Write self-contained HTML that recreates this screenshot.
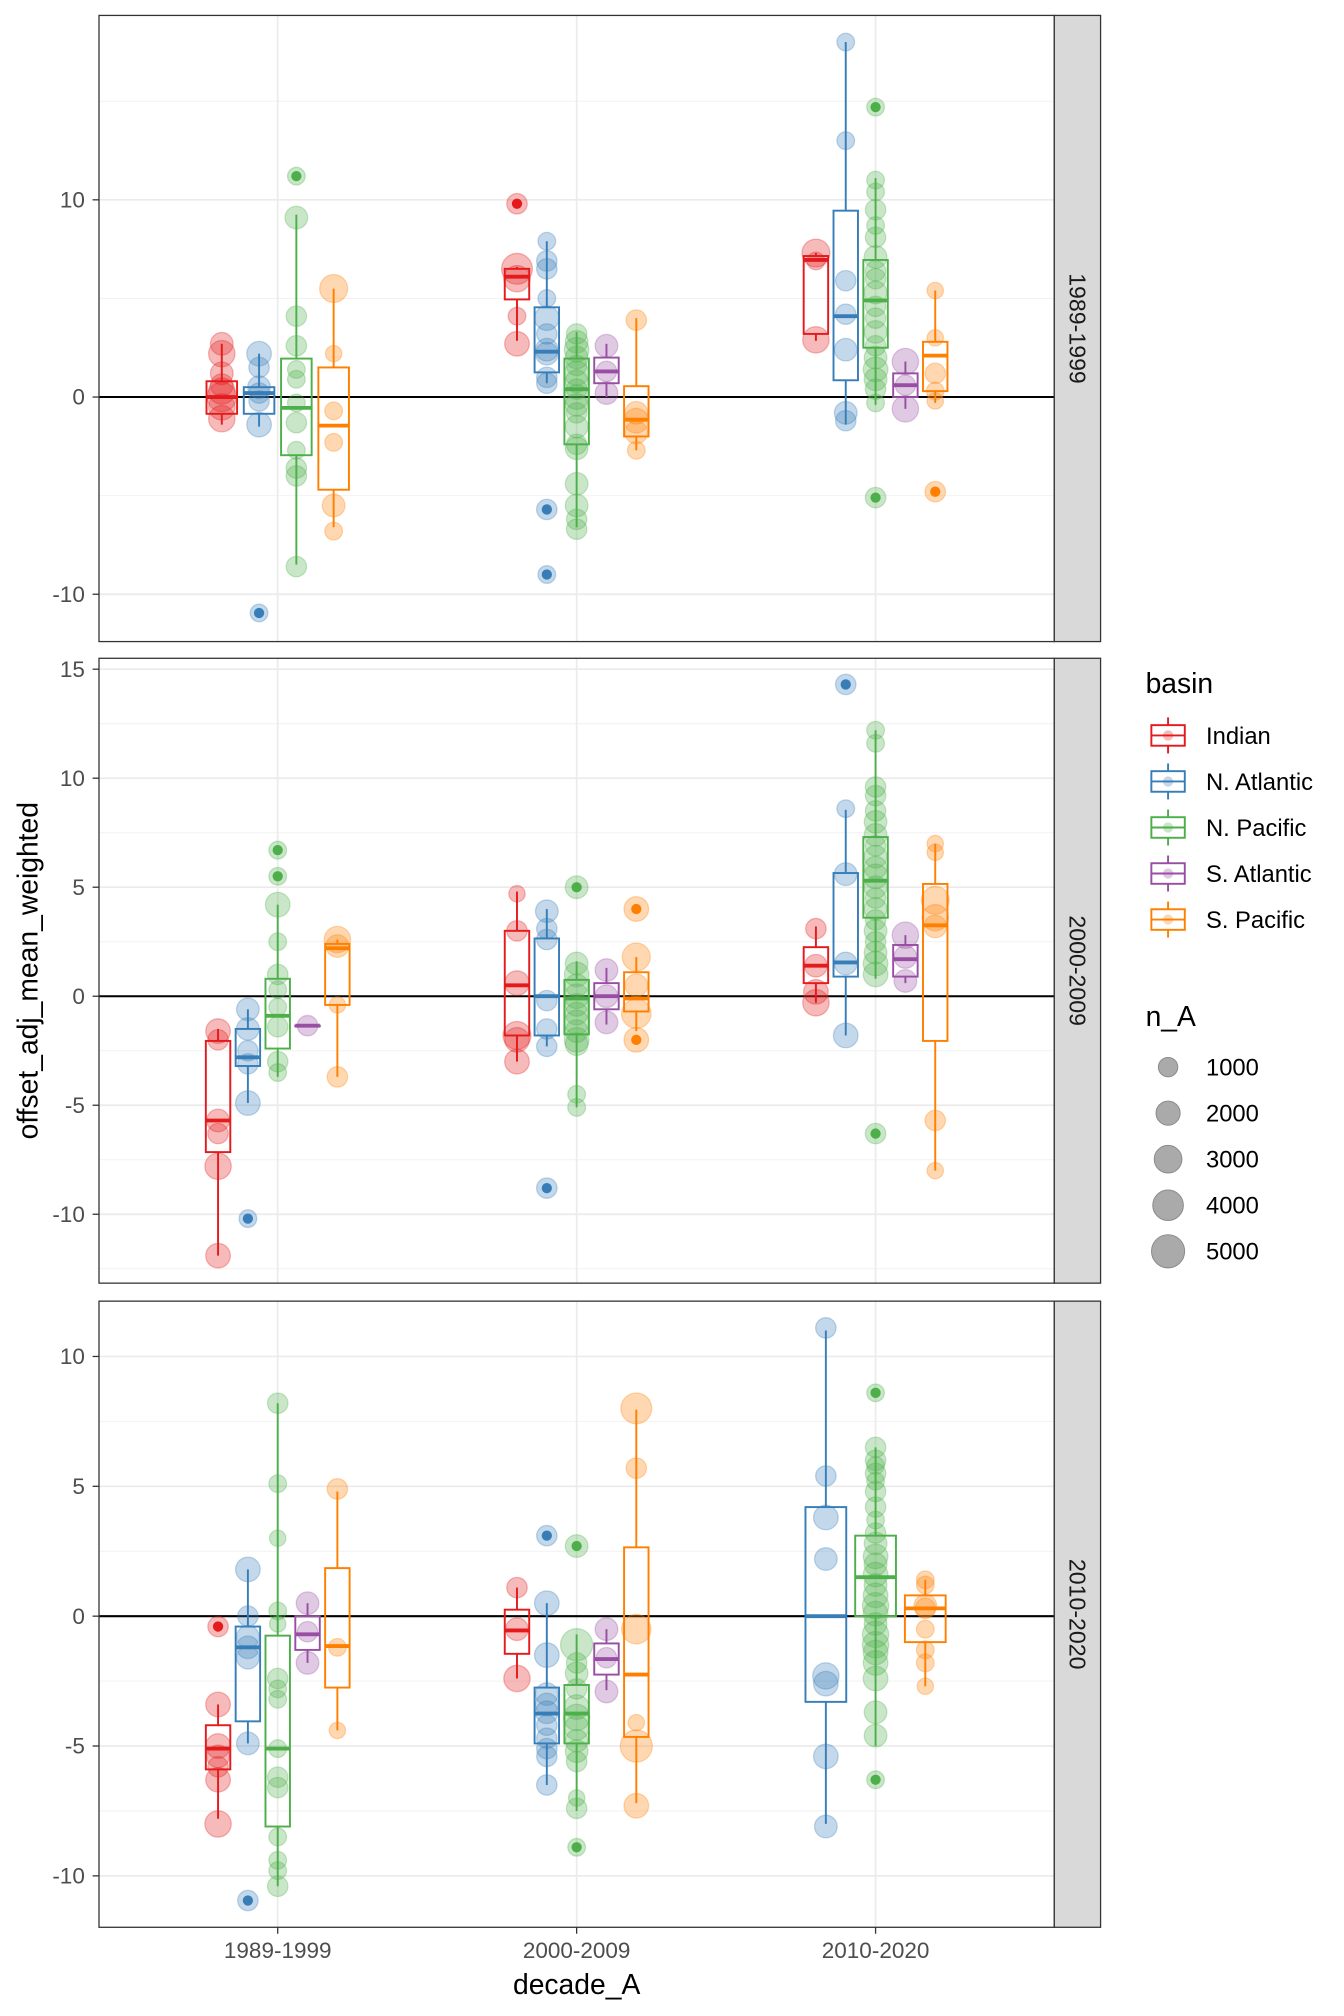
<!DOCTYPE html>
<html><head><meta charset="utf-8"><title>offset boxplots</title>
<style>
html,body{margin:0;padding:0;background:#fff;}
svg{display:block;font-family:"Liberation Sans",Arial,sans-serif;}
</style></head>
<body>
<svg id="chart" width="1344" height="2016" viewBox="0 0 1045.33 1568" xmlns="http://www.w3.org/2000/svg">
<rect x="0" y="0" width="1045.33" height="1568" fill="#fff"/>
<g id="layer"></g>
</svg>
<script>
// ---- data ----
const facetLabels = ["1989-1999","2000-2009","2010-2020"];
const decades = ["1989-1999","2000-2009","2010-2020"];
const basins = ["Indian","N. Atlantic","N. Pacific","S. Atlantic","S. Pacific"];
const basinColors = ["#E41A1C","#377EB8","#4DAF4A","#984EA3","#FF7F00"];
const facetTicks = [[-10,0,10],[-10,-5,0,5,10,15],[-10,-5,0,5,10]];
const facetMinor = [[-5,5,15],[-12.5,-7.5,-2.5,2.5,7.5,12.5],[-7.5,-2.5,2.5,7.5]];
const facetDomain = [[-12.4,19.35],[-13.16,15.5],[-11.98,12.13]];
const sizeBreaks = [1000,2000,3000,4000,5000];
// box stats: [facet, decade, basin, lowerWhisker, q1, median, q3, upperWhisker]
const boxStats = [
[0,0,0,-1.4,-0.85,0,0.8,2.7],
[0,0,1,-1.5,-0.85,0.2,0.5,2.2],
[0,0,2,-8.5,-2.95,-0.55,1.95,9.25],
[0,0,4,-6.6,-4.7,-1.45,1.5,5.5],
[0,1,0,2.85,4.95,6.1,6.5,6.6],
[0,1,1,0.7,1.25,2.3,4.55,7.9],
[0,1,2,-6.6,-2.4,0.4,1.95,3.3],
[0,1,3,0.0,0.7,1.3,2.0,2.7],
[0,1,4,-2.7,-2.0,-1.15,0.55,4.0],
[0,2,0,2.85,3.2,6.95,7.15,7.3],
[0,2,1,-1.4,0.85,4.1,9.45,18.0],
[0,2,2,-0.4,2.5,4.9,6.95,11.1],
[0,2,3,-0.6,0,0.6,1.2,1.8],
[0,2,4,-0.3,0.3,2.1,2.8,5.4],
[1,0,0,-11.9,-7.15,-5.7,-2.05,-1.5],
[1,0,1,-4.9,-3.2,-2.8,-1.5,-0.6],
[1,0,2,-3.7,-2.4,-0.9,0.8,4.2],
[1,0,3,-1.35,-1.35,-1.35,-1.35,-1.35],
[1,0,4,-3.7,-0.4,2.2,2.4,2.6],
[1,1,0,-3.0,-1.8,0.5,3.0,4.8],
[1,1,1,-2.3,-1.8,0,2.65,4.0],
[1,1,2,-5.1,-1.75,-0.1,0.75,1.6],
[1,1,3,-1.3,-0.6,0,0.6,1.3],
[1,1,4,-1.6,-0.7,-0.1,1.1,1.8],
[1,2,0,-0.3,0.6,1.4,2.25,3.2],
[1,2,1,-1.8,0.9,1.55,5.65,8.55],
[1,2,2,0.8,3.6,5.3,7.3,12.2],
[1,2,3,0.6,0.9,1.7,2.35,2.8],
[1,2,4,-8.0,-2.05,3.25,5.15,7.0],
[2,0,0,-7.8,-5.9,-5.1,-4.2,-3.4],
[2,0,1,-4.9,-4.05,-1.2,-0.4,1.8],
[2,0,2,-10.4,-8.1,-5.1,-0.75,8.2],
[2,0,3,-1.8,-1.3,-0.7,0,0.5],
[2,0,4,-4.4,-2.75,-1.15,1.85,4.8],
[2,1,0,-2.4,-1.45,-0.55,0.25,1.1],
[2,1,1,-6.5,-4.9,-3.75,-2.75,0.5],
[2,1,2,-7.5,-4.9,-3.75,-2.65,-0.7],
[2,1,3,-2.85,-2.25,-1.65,-1.05,-0.5],
[2,1,4,-7.2,-4.65,-2.25,2.65,7.95],
[2,2,1,-8.0,-3.3,0,4.2,11.0],
[2,2,2,-5.0,0,1.5,3.1,6.5],
[2,2,4,-2.7,-1.0,0.3,0.8,1.4]
];
// points: [facet, decade, basin, values[], n_A sizes[]]
const pointSets = [
[0,0,0,[2.7,2.2,1.2,0.6,0.3,0,-0.5,-1.1],[2000,3000,2000,2000,3000,4000,3000,3000]],
[0,0,1,[2.2,1.5,0.5,0.2,-0.2,-1.4,-10.95],[2500,1500,2000,1500,1500,2500,1000]],
[0,0,2,[11.2,9.1,4.1,2.6,1.4,0.9,-0.3,-1.3,-2.7,-3.6,-4.0,-8.6],[1000,2000,1500,1500,1000,1000,1000,1500,1000,1500,1500,1500]],
[0,0,4,[5.5,2.2,-0.7,-2.3,-5.5,-6.8],[3500,800,1000,1000,2000,1000]],
[0,1,0,[9.8,6.5,6.0,4.1,2.7],[1500,4500,3000,1000,2500]],
[0,1,1,[7.9,6.9,6.5,5.0,4.0,3.2,2.4,2.2,1.0,0.7,-5.7,-9.0],[1000,1500,1500,1000,2500,1500,2000,2000,1500,1500,1500,1000]],
[0,1,2,[3.2,2.8,2.4,2.0,1.6,1.2,0.8,0.4,0,-0.4,-0.8,-1.5,-2.4,-2.6,-4.4,-5.5,-6.2,-6.7],[1500,2000,2500,2000,1500,2500,2000,1500,2500,2000,1500,2000,1500,2000,2000,2000,1500,1500]],
[0,1,3,[2.6,1.3,0.2],[2000,1500,2000]],
[0,1,4,[3.9,-0.8,-1.2,-1.8,-2.7],[1500,2000,2500,2000,1000]],
[0,2,0,[7.3,6.9,2.9],[3500,1000,3000]],
[0,2,1,[18.0,13.0,5.9,4.2,2.4,-0.8,-1.2],[1000,1000,1500,1500,2000,2000,1500]],
[0,2,2,[14.7,11.0,10.4,9.5,8.7,8.1,7.1,6.4,6.0,5.3,4.6,4.0,3.3,2.6,2.0,1.4,0.9,0.4,-0.3,-5.1],[1000,1000,1000,1500,1000,1500,2000,1500,1500,2000,1500,1500,2000,1500,2000,2500,2000,1500,1000,1500]],
[0,2,3,[1.8,0.6,-0.6],[3000,1500,3000]],
[0,2,4,[5.4,3.0,1.2,0.3,-0.2,-4.8],[800,800,1500,1000,800,1500]],
[1,0,0,[-1.6,-2.0,-5.7,-6.3,-7.8,-11.9],[2500,1500,2000,1500,3000,2500]],
[1,0,1,[-0.6,-1.5,-2.5,-3.1,-4.9,-10.2],[2000,2000,1500,1500,2500,1000]],
[1,0,2,[6.7,5.5,4.2,2.5,1.0,0.3,-0.5,-1.4,-3.0,-3.5],[1000,1000,2500,1000,1500,1000,1000,1500,1500,1000]],
[1,0,3,[-1.35],[1500]],
[1,0,4,[2.6,2.3,-0.4,-3.7],[3000,2000,800,1500]],
[1,1,0,[4.7,3.0,0.6,-1.8,-2.0,-3.0],[800,1500,2500,3500,2500,2500]],
[1,1,1,[3.9,3.1,2.6,-0.2,-1.5,-2.3,-8.8],[2000,1500,1500,1500,1500,1500,1500]],
[1,1,2,[5.0,1.5,1.0,0.5,0,-0.4,-0.8,-1.2,-1.6,-2.0,-2.2,-4.5,-5.1],[2000,2000,2500,2000,2500,2000,2000,2500,2000,2500,2000,1000,1000]],
[1,1,3,[1.2,0,-1.2],[2000,2000,2000]],
[1,1,4,[4.0,1.8,0.5,-0.8,-2.0],[2500,3500,2000,4000,2500]],
[1,2,0,[3.1,1.4,0.2,-0.3],[1500,2000,2500,3000]],
[1,2,1,[14.3,8.6,5.6,1.5,-1.8],[1500,1000,2000,2000,2500]],
[1,2,2,[12.2,11.6,9.6,9.2,8.5,8.0,7.4,6.9,6.4,5.9,5.5,5.0,4.5,4.0,3.5,3.0,2.5,2.0,1.5,1.0,-6.3],[1000,1000,1500,1500,1500,2000,2000,1500,2000,2000,2500,2000,1500,2000,1500,2000,1500,2000,2500,2500,1500]],
[1,2,3,[2.8,1.8,0.7],[3000,2000,2000]],
[1,2,4,[7.0,6.6,4.4,3.6,3.2,-5.7,-8.0],[800,800,3500,3000,2000,1500,800]],
[2,0,0,[-0.4,-3.4,-5.0,-5.4,-5.8,-6.3,-8.0],[1500,2500,2500,2000,1500,2500,3000]],
[2,0,1,[1.8,0,-0.8,-1.2,-1.6,-4.9,-10.95],[2500,1500,2000,2000,2000,2000,1500]],
[2,0,2,[8.2,5.1,3.0,0.2,-0.3,-2.4,-2.8,-3.2,-5.1,-6.2,-6.6,-8.5,-9.4,-9.8,-10.4],[1500,1000,800,1000,800,1500,1000,1000,1000,1500,1500,1000,1000,1000,1500]],
[2,0,3,[0.5,-0.6,-1.8],[2000,1500,2000]],
[2,0,4,[4.9,-1.2,-4.4],[1500,1000,800]],
[2,1,0,[1.1,-0.5,-2.4],[1500,2000,3000]],
[2,1,1,[3.1,0.5,-1.5,-3.0,-3.4,-3.7,-4.2,-4.7,-5.1,-5.4,-6.5],[1500,2500,2500,2000,2000,2000,1500,1500,1500,1500,1500]],
[2,1,2,[2.7,-1.1,-1.8,-2.2,-2.8,-3.5,-3.9,-4.3,-4.8,-5.2,-5.6,-7.0,-7.4,-8.9],[2000,5000,1500,2000,1500,2500,3000,2500,2000,2000,1500,800,1500,1000]],
[2,1,3,[-0.5,-1.6,-2.9],[2000,1500,2000]],
[2,1,4,[8.0,5.7,-0.5,-4.1,-5.0,-7.3],[4500,1500,4000,800,5000,2500]],
[2,2,1,[11.1,5.4,3.8,2.2,-2.3,-2.6,-5.4,-8.1],[1500,1500,2500,2000,3000,2500,2500,2000]],
[2,2,2,[8.6,6.5,6.0,5.8,5.5,5.2,4.8,4.2,3.7,3.2,2.8,2.3,2.0,1.6,1.2,0.8,0.4,0.1,-0.3,-0.7,-1.1,-1.4,-1.8,-2.4,-3.7,-4.6,-6.3],[1000,1500,1500,1000,1500,1000,1500,1500,1000,1500,2000,2500,2000,2500,2000,2500,3000,2500,2000,3000,3000,2500,2500,2500,2000,2000,1000]],
[2,2,4,[1.4,1.2,0.4,0.3,-0.5,-1.3,-1.8,-2.7],[1000,1000,2000,1500,1000,1000,1000,800]]
];

// ---- layout ----
const NS = "http://www.w3.org/2000/svg";
const layer = document.getElementById('layer');
const panelX0 = 77, panelX1 = 820, stripX1 = 856;
const panelTops = [12,512,1012], panelBots = [499,998,1499];
const xCenters = [216,448.5,681];
function xScale(d){ return xCenters[d]; }
function yScale(f,v){ const dom=facetDomain[f]; return panelBots[f] - (v-dom[0])/(dom[1]-dom[0])*(panelBots[f]-panelTops[f]); }
function rScale(n){ return 3 + 9.5*Math.sqrt(Math.max(0,(n-200))/4800); }
function mk(tag, attrs, parent){ const e=document.createElementNS(NS,tag); for(const k in attrs) e.setAttribute(k,attrs[k]); (parent||layer).appendChild(e); return e; }

function groupInfo(f,d,b){
  const present = boxStats.filter(r=>r[0]===f&&r[1]===d).map(r=>r[2]).sort((a,c)=>a-c);
  const n = present.length, slot = 116/n, i = present.indexOf(b);
  return {cx: xScale(d) + (i-(n-1)/2)*slot, w: slot*0.82};
}

for(let f=0; f<3; f++){
  const g = mk('g',{});
  
  
  const top=panelTops[f], bot=panelBots[f];
  const bg = mk('rect',{x:panelX0,y:top,width:panelX1-panelX0,height:bot-top,fill:'#fff'},g);
  
  
  facetMinor[f].forEach(v=>{ const y=yScale(f,v); if(y>top&&y<bot){ const l=mk('line',{x1:panelX0,x2:panelX1,y1:y,y2:y,stroke:'#f2f2f2','stroke-width':0.8},g);
      }});
  facetTicks[f].forEach(v=>{ const y=yScale(f,v); const l=mk('line',{x1:panelX0,x2:panelX1,y1:y,y2:y,stroke:'#ebebeb','stroke-width':1.3},g);
     
    const t=mk('line',{x1:72,x2:77,y1:y,y2:y,stroke:'#333','stroke-width':1},g);
     
    const tx=mk('text',{x:66,y:y+6,'text-anchor':'end','font-size':17.5,fill:'#4d4d4d'},g); tx.textContent=String(v);
      });
  xCenters.forEach(x=>{ const l=mk('line',{x1:x,x2:x,y1:top,y2:bot,stroke:'#ebebeb','stroke-width':1.3},g);
      });
  const y0=yScale(f,0);
  const zl=mk('line',{x1:panelX0,x2:panelX1,y1:y0,y2:y0,stroke:'#000','stroke-width':1.6},g);
   
  pointSets.filter(p=>p[0]===f).forEach(p=>{
    const gi=groupInfo(f,p[1],p[2]); const col=basinColors[p[2]];
    p[3].forEach((v,k)=>{ const c=mk('circle',{cx:gi.cx,cy:yScale(f,v),r:rScale(p[4][k]),fill:col,'fill-opacity':0.3,stroke:col,'stroke-opacity':0.3,'stroke-width':1},g);
        });
  });
  boxStats.filter(r=>r[0]===f).forEach(r=>{
    const gi=groupInfo(f,r[1],r[2]); const col=basinColors[r[2]];
    const bx=mk('g',{},g);
    
    
    mk('line',{x1:gi.cx,x2:gi.cx,y1:yScale(f,r[7]),y2:yScale(f,r[6]),stroke:col,'stroke-width':1.5},bx);
    mk('line',{x1:gi.cx,x2:gi.cx,y1:yScale(f,r[4]),y2:yScale(f,r[3]),stroke:col,'stroke-width':1.5},bx);
    const yt=yScale(f,r[6]), yb=yScale(f,r[4]);
    mk('rect',{x:gi.cx-gi.w/2,y:yt,width:gi.w,height:Math.max(0.5,yb-yt),fill:'none',stroke:col,'stroke-width':1.5},bx);
    const ym=yScale(f,r[5]);
    mk('line',{x1:gi.cx-gi.w/2,x2:gi.cx+gi.w/2,y1:ym,y2:ym,stroke:col,'stroke-width':3},bx);
    pointSets.filter(p=>p[0]===f&&p[1]===r[1]&&p[2]===r[2]).forEach(p=>{
      p[3].forEach(v=>{ if(v>r[7]+0.3||v<r[3]-0.3){ const o=mk('circle',{cx:gi.cx,cy:yScale(f,v),r:4,fill:col},bx);
          }});
    });
  });
  const br=mk('rect',{x:panelX0,y:top,width:panelX1-panelX0,height:bot-top,fill:'none',stroke:'#333','stroke-width':1},g);
   
  const st=mk('rect',{x:panelX1,y:top,width:stripX1-panelX1,height:bot-top,fill:'#d9d9d9',stroke:'#333','stroke-width':1},g);
   
  const sx=(panelX1+stripX1)/2, sy=(top+bot)/2;
  const stt=mk('text',{x:sx,y:sy,'text-anchor':'middle','font-size':18,fill:'#1a1a1a',transform:`rotate(90 ${sx} ${sy}) translate(0 6)`},g);
  stt.textContent=facetLabels[f];
   
}
decades.forEach((d,i)=>{ const x=xScale(i);
  const t=mk('line',{x1:x,x2:x,y1:1499,y2:1504,stroke:'#333','stroke-width':1});
   
  const tx=mk('text',{x:x,y:1523,'text-anchor':'middle','font-size':17.5,fill:'#4d4d4d'}); tx.textContent=d;
    });
const xt=mk('text',{x:448.5,y:1551,'text-anchor':'middle','font-size':22,fill:'#000'}); xt.textContent='decade_A';
 
const yt=mk('text',{x:29,y:755,'text-anchor':'middle','font-size':22,fill:'#000',transform:'rotate(-90 29 755)'}); yt.textContent='offset_adj_mean_weighted';
 
const lt=mk('text',{x:891,y:539,'font-size':22,fill:'#000'}); lt.textContent='basin';
 
basins.forEach((b,i)=>{ const y=572+i*35.8; const col=basinColors[i];
  const g=mk('g',{});  
  mk('line',{x1:908.5,x2:908.5,y1:y-14,y2:y+14,stroke:col,'stroke-width':1.5},g);
  mk('rect',{x:895.5,y:y-8,width:26,height:16,fill:'#fff',stroke:col,'stroke-width':1.5},g);
  mk('line',{x1:895.5,x2:921.5,y1:y,y2:y,stroke:col,'stroke-width':1.5},g);
  mk('circle',{cx:908.5,cy:y,r:4,fill:col,'fill-opacity':0.3},g);
  const t=mk('text',{x:938,y:y+6.5,'font-size':18.5,fill:'#000'},g); t.textContent=b; });
const lt2=mk('text',{x:891,y:798,'font-size':22,fill:'#000'}); lt2.textContent='n_A';
 
sizeBreaks.forEach((n,i)=>{ const y=830+i*35.8;
  const g=mk('g',{});  
  mk('circle',{cx:908.5,cy:y,r:rScale(n)*0.95+1,fill:'#aaaaaa',stroke:'#8c8c8c','stroke-width':0.8},g);
  const t=mk('text',{x:938,y:y+6.5,'font-size':18.5,fill:'#000'},g); t.textContent=String(n); });
</script>
</body></html>
